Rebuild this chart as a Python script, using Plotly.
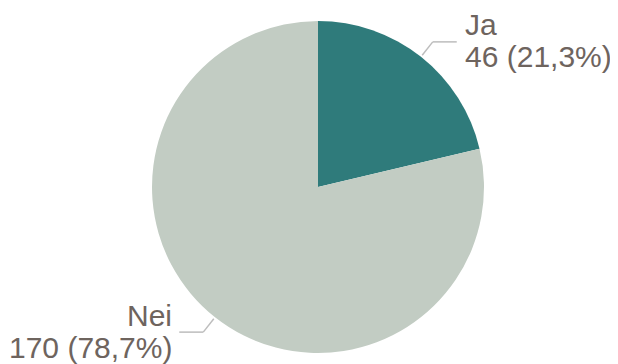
import math
import plotly.graph_objects as go

labels = ["Ja", "Nei"]
values = [46, 170]
colors = ["#2f7b7b", "#c2ccc3"]

W, H = 618, 364
OFF = 8  # page body margin offset compensation
CX, CY, R = 318 - OFF, 187 - OFF, 166  # pie centre/radius in pixels (layout)

total = sum(values)

fig = go.Figure(go.Pie(
    labels=labels, values=values, sort=False, direction="clockwise", rotation=0,
    marker=dict(colors=colors, line=dict(width=0)),
    textinfo="none", hoverinfo="label+value+percent", showlegend=False,
    domain=dict(x=[(CX - R) / W, (CX + R) / W], y=[(H - CY - R) / H, (H - CY + R) / H]),
))

def px(x, y):
    return x / W, 1 - y / H

shapes, annos = [], []
txtcol = "#6e645e"
font = dict(family="Arial, Liberation Sans, sans-serif", size=30, color=txtcol)
cum = 0
for lab, v in zip(labels, values):
    mid = (cum + v / 2) / total * 2 * math.pi
    cum += v
    sx, sy = CX + (R + 2) * math.sin(mid), CY - (R + 2) * math.cos(mid)
    ex, ey = CX + 185 * math.sin(mid), CY - 185 * math.cos(mid)
    right = math.sin(mid) > 0
    hx = ex + (24 if right else -24)
    for (x0, y0, x1, y1) in [(sx, sy, ex, ey), (ex, ey, hx, ey)]:
        a0, b0 = px(x0, y0); a1, b1 = px(x1, y1)
        shapes.append(dict(type="line", xref="paper", yref="paper", x0=a0, y0=b0, x1=a1, y1=b1,
                           line=dict(color="#bdbdbd", width=1.5)))
    tx = hx + (6 if right else -5)
    pct = f"{v / total * 100:.1f}".replace(".", ",")
    line1 = lab
    line2 = f"{v} ({pct}%)"
    if right:
        y1t, y2t = ey - 17, ey + 15
    else:
        y1t, y2t = ey - 17, ey + 15
    for t, yy in [(line1, y1t), (line2, y2t)]:
        ax, ay = px(tx, yy)
        annos.append(dict(text=t, x=ax, y=ay, xref="paper", yref="paper", showarrow=False,
                          xanchor="left" if right else "right", yanchor="middle", font=font))

fig.update_layout(width=W, height=H, margin=dict(l=0, r=0, t=0, b=0),
                  paper_bgcolor="white", plot_bgcolor="white",
                  shapes=shapes, annotations=annos)
fig.write_html("out.html")
